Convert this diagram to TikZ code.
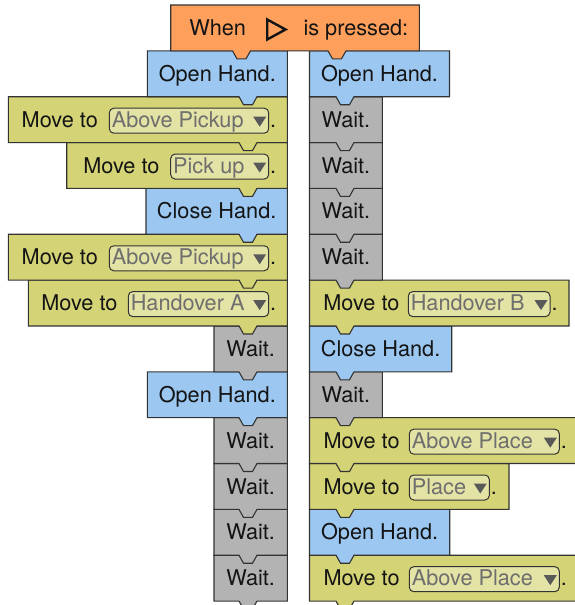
\documentclass[tikz,border=0pt]{standalone}
\usepackage{fontspec}
\setmainfont{TeX Gyre Heros}
\definecolor{orangeblk}{HTML}{FE9F5C}
\definecolor{blueblk}{HTML}{9BC7F1}
\definecolor{yellowblk}{HTML}{D4D477}
\definecolor{grayblk}{HTML}{B3B3B3}
\definecolor{ddfill}{HTML}{E3E3A6}
\definecolor{ddtext}{HTML}{6E6E6E}
\definecolor{ddarrow}{HTML}{595959}
\definecolor{edgecol}{HTML}{333333}
\tikzset{
 blockline/.style={draw=edgecol, line width=1.1pt, line join=miter},
 lbl/.style={inner sep=0pt, outer sep=0pt, font=\fontsize{21.7}{26}\selectfont, text=black!92},
 ddlbl/.style={lbl, text=ddtext},
 ddbox/.style={draw=edgecol, line width=1pt, fill=ddfill, rounded corners=4.5pt},
 ddtri/.style={fill=ddarrow, draw=none},
}
\newcommand\blkshape[5]{%
 \pgfmathsetmacro\blkT{5+45.85*#3}%
 \pgfmathsetmacro\blkB{\blkT+45.85}%
 \pgfmathsetmacro\blkD{\blkB+8}%
 \filldraw[blockline, fill=#4] (#1,\blkT) -- (#2,\blkT) -- (#2,\blkB) -- ({#5+9},\blkB) -- ({#5+4.5},\blkD) -- ({#5-4.5},\blkD) -- ({#5-9},\blkB) -- (#1,\blkB) -- cycle;
}
\newcommand\simpleblk[7]{%
 \blkshape{#3}{#4}{#2}{#5}{#6}
 \node[lbl, anchor=base] (#1) at ({(#3+#4)/2},{\blkT+30.5}) {#7};
}
\newcommand\moveblk[9]{%
 \blkshape{#3}{#4}{#2}{yellowblk}{#9}
 \node[lbl, anchor=base west] (#1) at (#5,{\blkT+30.5}) {Move to};
 \draw[ddbox] (#6,{\blkT+11.5}) rectangle (#7,{\blkT+36.5});
 \node[ddlbl, anchor=base west] (#1-dd) at ({#6+2.5},{\blkT+30.5}) {#8};
 \fill[ddtri] ({#7-15.5},{\blkT+20}) -- ({#7-2.5},{\blkT+20}) -- ({#7-9},{\blkT+30}) -- cycle;
 \node[lbl, anchor=base west] (#1-dot) at ({#7+1.5},{\blkT+30.5}) {.};
}
\begin{document}
\begin{tikzpicture}[x=1pt, y=-1pt]
\useasboundingbox (0,0) rectangle (574,605);
% left column (bottom to top)
\simpleblk{L12}{12}{214}{287.3}{grayblk}{248}{Wait.}
\simpleblk{L11}{11}{214}{287.3}{grayblk}{248}{Wait.}
\simpleblk{L10}{10}{214}{287.3}{grayblk}{248}{Wait.}
\simpleblk{L9}{9}{214}{287.3}{grayblk}{248}{Wait.}
\simpleblk{L8}{8}{147.3}{287.3}{blueblk}{248}{Open Hand.}
\simpleblk{L7}{7}{214}{287.3}{grayblk}{248}{Wait.}
\moveblk{L6}{6}{28.3}{287.3}{41.3}{128.3}{268.7}{Handover A}{248}
\moveblk{L5}{5}{8.3}{287.3}{21.7}{109.3}{268.7}{Above Pickup}{248}
\simpleblk{L4}{4}{146}{287.3}{blueblk}{248}{Close Hand.}
\moveblk{L3}{3}{66.7}{287.3}{83.3}{170.7}{268.7}{Pick up}{248}
\moveblk{L2}{2}{8.3}{287.3}{21.7}{109.3}{268.7}{Above Pickup}{248}
\simpleblk{L1}{1}{147.3}{287.3}{blueblk}{248}{Open Hand.}
% right column (bottom to top)
\moveblk{R12}{12}{309.5}{578}{323.5}{409.3}{559.3}{Above Place}{345}
\simpleblk{R11}{11}{309.5}{449.7}{blueblk}{345}{Open Hand.}
\moveblk{R10}{10}{309.5}{509}{323.5}{409.3}{489.3}{Place}{345}
\moveblk{R9}{9}{309.5}{578}{323.5}{409.3}{559.3}{Above Place}{345}
\simpleblk{R8}{8}{309.5}{382.3}{grayblk}{345}{Wait.}
\simpleblk{R7}{7}{309.5}{451.7}{blueblk}{345}{Close Hand.}
\moveblk{R6}{6}{309.5}{569}{323.3}{408.3}{550}{Handover B}{345}
\simpleblk{R5}{5}{309.5}{382.3}{grayblk}{345}{Wait.}
\simpleblk{R4}{4}{309.5}{382.3}{grayblk}{345}{Wait.}
\simpleblk{R3}{3}{309.5}{382.3}{grayblk}{345}{Wait.}
\simpleblk{R2}{2}{309.5}{382.3}{grayblk}{345}{Wait.}
\simpleblk{R1}{1}{309.5}{449.5}{blueblk}{345}{Open Hand.}
% hat block
\filldraw[blockline, fill=orangeblk] (170.7,5) -- (419.3,5) -- (419.3,50.85) -- (346,50.85) -- (341.5,58.85) -- (332.5,58.85) -- (328,50.85) -- (250.5,50.85) -- (246,58.85) -- (237,58.85) -- (232.5,50.85) -- (170.7,50.85) -- cycle;
\node[lbl, anchor=base west] (when) at (189.3,35.7) {When};
\draw[line width=2.4pt, line join=miter, draw=black!92] (267.2,19.5) -- (267.2,39.5) -- (285.5,29.5) -- cycle;
\node[lbl, anchor=base west] (pressed) at (303.5,35.7) {is pressed:};
\end{tikzpicture}
\end{document}
